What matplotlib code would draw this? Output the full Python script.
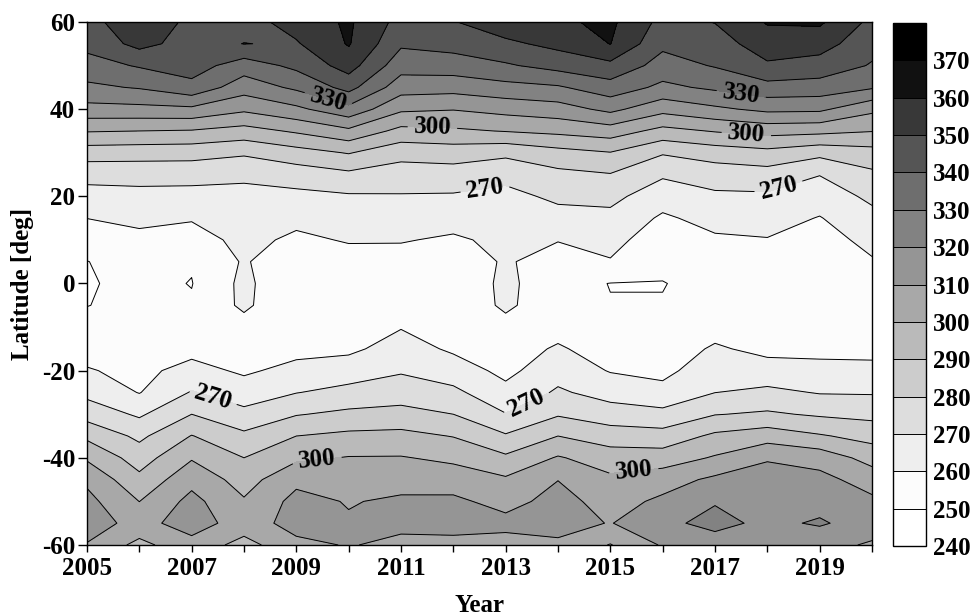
import numpy as np
import matplotlib
matplotlib.use('Agg')
import matplotlib.pyplot as plt

# grid of the field: one row per year, values from 60N down to 60S (5 deg step)
years = np.arange(2005, 2021)
lats = np.arange(60, -61, -5)
levels = np.arange(240, 381, 10)
shades = ['#ffffff', '#fcfcfc', '#eeeeee', '#dddddd', '#cccccc', '#bababa', '#a8a8a8',
          '#959595', '#828282', '#6e6e6e', '#555555', '#383838', '#111111', '#000000']

values = [
    [347, 343, 336, 328, 316.7, 300.7, 284.6, 273.4, 266.1, 260.1, 255, 249.8, 249.2, 249.8, 253, 256.5, 260.7, 267.2, 276, 287.8, 298.6, 308, 313, 314, 309.5],  # 2005
    [356, 353, 340.9, 330.8, 317.1, 300, 284.1, 273.6, 267, 262.3, 257.5, 254, 252.5, 252.5, 254, 255.5, 257.5, 259.6, 268.5, 277.8, 285.4, 292.6, 299.9, 307, 297],  # 2006
    [348, 346, 344.5, 337, 317.9, 299.3, 283.75, 273.6, 266.6, 260.9, 255.5, 250.8, 249.7, 251, 254, 257, 263.3, 270.7, 280, 290.4, 299.1, 306.9, 313, 314, 307],  # 2007
    [346, 350.2, 334.9, 324.5, 311.9, 296.25, 281.4, 272, 267, 264, 263, 261, 262.5, 262, 256, 256.5, 258.5, 264.9, 272.7, 282.2, 290, 295.9, 301, 306, 296],  # 2008
    [354, 349, 342.4, 331.9, 317.8, 301.4, 286.1, 274.7, 267.5, 262.6, 258, 253, 251, 251, 252.5, 257, 263, 269.7, 279.4, 290, 298.2, 307.6, 313, 313, 308],  # 2009
    [361.5, 360.8, 354.2, 343.4, 327, 307.8, 290.6, 277.9, 268.9, 264.9, 260.8, 256, 253, 252, 253, 258, 265.1, 273, 282.2, 292.3, 300.5, 304.9, 309.4, 311, 310.5],  # 2010
    [346.5, 341.5, 334.1, 324.5, 311.8, 297.1, 283.4, 275.3, 269.3, 265, 260.7, 256, 253, 255.5, 259.5, 264.2, 269, 275.3, 283.3, 292.9, 300.6, 306.5, 311.5, 312, 308],  # 2011
    [349.5, 343.6, 335.2, 323.8, 310.5, 298.4, 284.6, 275.7, 269, 264, 258.5, 255, 252, 252, 255, 258.5, 264.8, 272.3, 280, 289.6, 297.9, 305.3, 312, 312.5, 308],  # 2012
    [356, 348, 338.8, 326.8, 313.4, 300.5, 282.2, 273.1, 267, 264, 262.5, 261, 262.5, 262, 256.5, 255, 257.5, 262.7, 270.4, 281.1, 291.8, 301.4, 306.6, 313, 306],  # 2013
    [358.5, 352.7, 343.6, 328.8, 315.7, 302.5, 286.6, 277.5, 272.1, 266.4, 260.4, 256, 253, 253, 256, 261.3, 266.1, 271.4, 279, 290, 300.9, 309.8, 313.5, 314, 308],  # 2014
    [362, 360.2, 347.4, 335.8, 322.6, 305.2, 289.6, 279.5, 272.6, 267.5, 263.4, 259.3, 249.8, 250.3, 252, 255, 259.4, 266.2, 274.6, 285.1, 294.9, 302, 306, 309.5, 299.5],  # 2015
    [347, 342.2, 336, 327.7, 313.3, 296.9, 280.9, 271.3, 264.5, 258.5, 254, 251.5, 249.8, 250.3, 252.5, 255, 257.5, 262.9, 272.9, 283.9, 294.8, 305.7, 312, 318, 311],  # 2016
    [350.3, 345.5, 340.7, 331.9, 318.1, 300.7, 284.6, 274.6, 268.3, 263.4, 258.5, 254, 252, 252, 256.5, 261.2, 265.6, 269.9, 279.6, 292, 301, 312, 319.4, 322.5, 316],  # 2017
    [360.8, 355.2, 348.6, 336.5, 322.4, 303.7, 287, 275.9, 268.5, 264, 259.5, 255, 252.5, 252.5, 254.5, 257.5, 263.9, 272.3, 281.4, 295.6, 308.9, 315, 317, 318, 315],  # 2018
    [361.5, 354.2, 345.9, 335.7, 322, 302.8, 282.8, 270.3, 264.8, 259.5, 255.5, 253, 252, 252, 254, 257.5, 262.8, 269.4, 278.7, 291, 306, 313, 317, 321, 314],  # 2019
    [347.5, 343.3, 339.2, 331.1, 312.3, 300.4, 286.2, 278, 272, 267.2, 263.2, 259, 255.5, 254, 254, 257, 262.8, 269.2, 277.2, 286.6, 296.2, 305.6, 312, 316, 308.5],  # 2020
]

# where the labels of the 270/300/330 lines sit (year, latitude)
label_levels = [270, 300, 330]
label_spots = [(2009.6, 41.6), (2017.5, 43.4), (2011.6, 35.6), (2017.6, 34.5),
               (2012.6, 22.3), (2018.2, 22.5), (2007.4, -26.4), (2013.4, -27.5),
               (2009.4, -41.0), (2015.45, -43.3)]

plt.rcParams.update({'font.family': 'serif', 'font.serif': ['Liberation Serif'],
                     'font.weight': 'bold', 'axes.labelweight': 'bold', 'font.size': 18,
                     'axes.unicode_minus': False})

Z = np.array(values, dtype=float).T
X, Y = np.meshgrid(years, lats)

fig = plt.figure(figsize=(9.73, 6.16), dpi=100)
ax = fig.add_axes([0.0894, 0.1153, 0.8068, 0.849])

cf = ax.contourf(X, Y, Z, levels=levels, colors=shades)
plain_levels = [l for l in levels if l not in label_levels]
cs = ax.contour(X, Y, Z, levels=plain_levels, colors='k', linewidths=0.7)
cs_lab = ax.contour(X, Y, Z, levels=label_levels, colors='k', linewidths=0.7)
ax.clabel(cs_lab, manual=label_spots, fmt='%d', fontsize=18,
          inline=True, inline_spacing=6)

ax.set_xlim(2005, 2020)
ax.set_ylim(-60, 60)
ax.set_xticks(years)
ax.set_xticklabels([str(y) if (y - 2005) % 2 == 0 and y < 2020 else '' for y in years])
ax.set_yticks(np.arange(-60, 61, 20))
ax.tick_params(axis='x', direction='out', length=5, width=1, pad=4)
ax.tick_params(axis='y', direction='out', length=6.5, width=1, pad=2)
for s in ax.spines.values():
    s.set_linewidth(1)

ax.set_xlabel('Year')
ax.set_ylabel('Latitude [deg]')
ax.xaxis.set_label_coords(0.5, -0.093)
ax.yaxis.set_label_coords(-0.068, 0.5)

cax = fig.add_axes([0.9178, 0.1136, 0.0339, 0.849])
cbar = fig.colorbar(cf, cax=cax, ticks=levels[:-1])
cbar.add_lines(cs)
cbar.add_lines(cs_lab, erase=False)
cbar.ax.tick_params(length=0, pad=5)
cbar.outline.set_linewidth(1)

fig.savefig('out.png', dpi=100)
